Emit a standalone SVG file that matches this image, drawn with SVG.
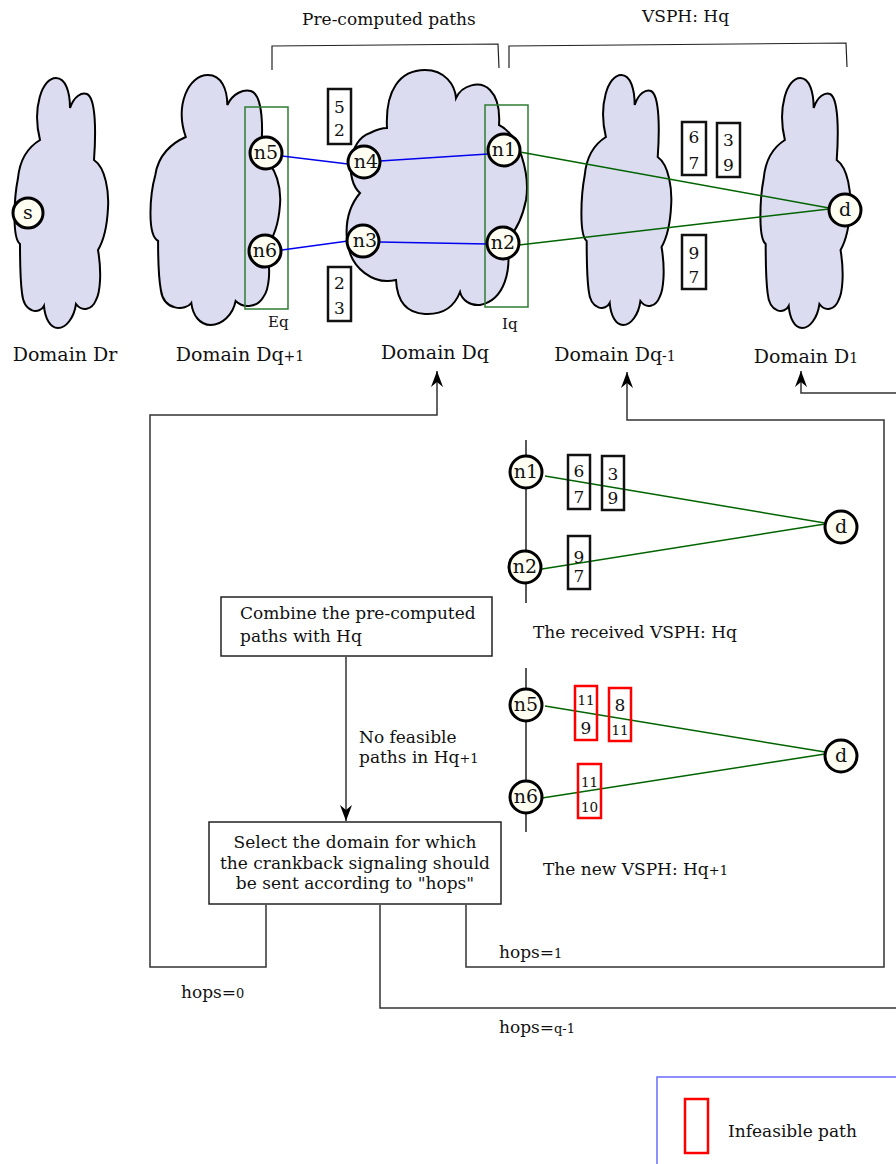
<svg xmlns="http://www.w3.org/2000/svg" xmlns:xlink="http://www.w3.org/1999/xlink" width="896" height="1164" viewBox="0 0 896 1164">
<style>
text{font-family:"DejaVu Serif","Liberation Serif",serif;fill:#111}
.t17{font-size:17px}
.dom{font-size:19px;text-anchor:middle}
.nl{font-size:19px;text-anchor:middle}
.dg{font-size:17px;text-anchor:middle}
.dr{font-size:13.5px;text-anchor:middle}
.cloud{fill:#dcdcf0;stroke:#000;stroke-width:2}
.node{fill:#fdfdf2;stroke:#000;stroke-width:3}
.bx{fill:none;stroke:#111;stroke-width:2.5}
.rbx{fill:none;stroke:#f00;stroke-width:2.5}
.blue{stroke:#0000ee;stroke-width:1.5;fill:none}
.green{stroke:#006400;stroke-width:1.5;fill:none}
.gbox{fill:none;stroke:#2e7d32;stroke-width:1.5}
.conn{fill:none;stroke:#333;stroke-width:1.5}
.brk{fill:none;stroke:#222;stroke-width:1.2}
.fbox{fill:#fff;stroke:#222;stroke-width:1.5}
</style>
<defs>
<path id="tall" d="M 28 62 C 20 30, 30 0, 44 0 C 54 0, 58 15, 58 30 C 62 18, 70 14, 75 16 C 84 20, 84 55, 82 82 C 94 90, 97 115, 96 130 C 95 150, 92 162, 86 172 C 90 195, 88 215, 84 222 C 80 232, 70 234, 64 226 C 62 240, 54 250, 46 250 C 38 250, 33 240, 32 228 C 28 236, 12 236, 10 215 C 8 200, 8 180, 8 166 C 0 160, 2 120, 6 100 C 8 80, 18 68, 28 62 Z" vector-effect="non-scaling-stroke"/>
<marker id="ah" viewBox="0 0 16 12" refX="16" refY="6" markerWidth="16" markerHeight="12" markerUnits="userSpaceOnUse" orient="auto">
<path d="M16 6 L0 0 L5 6 L0 12 Z" fill="#000"/>
</marker>
</defs>

<!-- titles and brackets -->
<g id="titles">
<text class="t17" x="302" y="25">Pre-computed paths</text>
<text class="t17" x="642" y="22">VSPH: Hq</text>
<path class="brk" d="M272 70 L272 46 L498 44 L499 68"/>
<path class="brk" d="M509 68 L509 46 L846 43 L847 67"/>
</g>

<!-- clouds -->
<g id="domain-Dr">
<use xlink:href="#tall" class="cloud" transform="translate(12,78)"/>
<text class="dom" x="65" y="361">Domain Dr</text>
</g>
<g id="domain-Dq1">
<use xlink:href="#tall" class="cloud" transform="translate(147,75) scale(1.385,1)"/>
<text class="dom" x="240" y="361">Domain Dq<tspan font-size="14">+1</tspan></text>
</g>
<g id="domain-Dq">
<path class="cloud" d="M 387 128 C 385 90, 400 70, 425 70 C 445 70, 455 85, 456 98 C 462 85, 480 80, 490 90 C 498 98, 500 110, 499 125 C 520 135, 530 175, 526 200 C 522 220, 515 232, 507 240 C 512 270, 505 300, 480 305 C 470 306, 462 300, 460 292 C 455 305, 445 315, 425 314 C 405 313, 397 300, 396 280 C 375 285, 350 270, 347 240 C 345 220, 350 205, 360 193 C 345 180, 348 140, 370 133 C 376 130, 382 128, 387 128 Z"/>
<text class="dom" x="435" y="359">Domain Dq</text>
</g>
<g id="domain-Dqm1">
<use xlink:href="#tall" class="cloud" transform="translate(579,75) scale(0.96,1)"/>
<text class="dom" x="615" y="361">Domain Dq<tspan font-size="14">-1</tspan></text>
</g>
<g id="domain-D1">
<use xlink:href="#tall" class="cloud" transform="translate(758,78) scale(0.96,1)"/>
<text class="dom" x="806" y="363">Domain D<tspan font-size="14">1</tspan></text>
</g>

<!-- border sets -->
<g id="Eq">
<rect class="gbox" x="245" y="107" width="43" height="202"/>
<text x="268" y="327" font-size="15">Eq</text>
</g>
<g id="Iq">
<rect class="gbox" x="485" y="105" width="43" height="202"/>
<text x="502" y="329" font-size="15">Iq</text>
</g>

<!-- top links -->
<g id="links-top">
<line class="blue" x1="282" y1="156" x2="348" y2="164"/>
<line class="blue" x1="380" y1="161" x2="488" y2="154"/>
<line class="blue" x1="282" y1="250" x2="348" y2="241"/>
<line class="blue" x1="379" y1="242" x2="488" y2="244"/>
<line class="green" x1="520" y1="152" x2="829" y2="208"/>
<line class="green" x1="519" y1="245" x2="829" y2="209"/>
</g>

<!-- top nodes -->
<g id="node-s"><circle class="node" cx="28" cy="213" r="15"/><text class="nl" x="28" y="219">s</text></g>
<g id="node-n5"><circle class="node" cx="266" cy="153" r="16"/><text class="nl" x="266" y="159">n5</text></g>
<g id="node-n6"><circle class="node" cx="265" cy="251" r="16"/><text class="nl" x="265" y="257">n6</text></g>
<g id="node-n4"><circle class="node" cx="364" cy="162" r="16"/><text class="nl" x="366" y="168">n4</text></g>
<g id="node-n3"><circle class="node" cx="363" cy="241" r="16"/><text class="nl" x="365" y="247">n3</text></g>
<g id="node-n1"><circle class="node" cx="504" cy="150" r="16"/><text class="nl" x="504" y="156">n1</text></g>
<g id="node-n2"><circle class="node" cx="503" cy="243" r="16"/><text class="nl" x="503" y="249">n2</text></g>
<g id="node-d"><circle class="node" cx="845" cy="210" r="16"/><text class="nl" x="845" y="216">d</text></g>

<!-- top path boxes -->
<g id="box-52"><rect class="bx" x="328" y="89" width="23" height="55"/><text class="dg" x="339.5" y="113">5</text><text class="dg" x="339.5" y="136">2</text></g>
<g id="box-23"><rect class="bx" x="328" y="267" width="23" height="54"/><text class="dg" x="339.5" y="289">2</text><text class="dg" x="339.5" y="314">3</text></g>
<g id="box-67"><rect class="bx" x="682" y="122" width="24" height="53"/><text class="dg" x="694" y="143">6</text><text class="dg" x="694" y="169">7</text></g>
<g id="box-39"><rect class="bx" x="717" y="123" width="23" height="54"/><text class="dg" x="728.5" y="146">3</text><text class="dg" x="728.5" y="171">9</text></g>
<g id="box-97"><rect class="bx" x="682" y="235" width="24" height="54"/><text class="dg" x="694" y="259">9</text><text class="dg" x="694" y="283">7</text></g>

<!-- received VSPH -->
<g id="received-vsph">
<line x1="526" y1="440" x2="526" y2="603" stroke="#222" stroke-width="1.5"/>
<line class="green" x1="545" y1="476" x2="825" y2="523"/>
<line class="green" x1="542" y1="569" x2="825" y2="524"/>
<circle class="node" cx="526" cy="472" r="16"/><text class="nl" x="526" y="478">n1</text>
<circle class="node" cx="525" cy="567" r="16"/><text class="nl" x="525" y="573">n2</text>
<circle class="node" cx="841" cy="527" r="16"/><text class="nl" x="841" y="533">d</text>
<rect class="bx" x="568" y="455" width="22" height="54"/><text class="dg" x="579" y="477">6</text><text class="dg" x="579" y="503">7</text>
<rect class="bx" x="602" y="456" width="22" height="54"/><text class="dg" x="613" y="480">3</text><text class="dg" x="613" y="504">9</text>
<rect class="bx" x="568" y="536" width="22" height="53"/><text class="dg" x="579" y="563">9</text><text class="dg" x="579" y="582">7</text>
<text class="t17" x="533" y="638">The received VSPH: Hq</text>
</g>

<!-- new VSPH -->
<g id="new-vsph">
<line x1="526" y1="668" x2="526" y2="832" stroke="#222" stroke-width="1.5"/>
<line class="green" x1="545" y1="706" x2="825" y2="752"/>
<line class="green" x1="542" y1="798" x2="825" y2="754"/>
<circle class="node" cx="526" cy="705" r="16"/><text class="nl" x="526" y="711">n5</text>
<circle class="node" cx="526" cy="797" r="16"/><text class="nl" x="526" y="803">n6</text>
<circle class="node" cx="841" cy="756" r="16"/><text class="nl" x="841" y="762">d</text>
<rect class="rbx" x="575" y="686" width="22" height="54"/><text class="dr" x="586" y="705">11</text><text class="dg" x="586" y="734">9</text>
<rect class="rbx" x="609" y="688" width="22" height="53"/><text class="dg" x="620" y="711">8</text><text class="dr" x="620" y="735">11</text>
<rect class="rbx" x="578" y="764" width="23" height="54"/><text class="dr" x="589.5" y="787">11</text><text class="dr" x="589.5" y="812">10</text>
<text class="t17" x="543" y="875">The new VSPH: Hq<tspan font-size="13">+1</tspan></text>
</g>

<!-- flow boxes -->
<g id="box-combine">
<rect class="fbox" x="221" y="597" width="271" height="59"/>
<text class="t17" x="240" y="619">Combine the pre-computed</text>
<text class="t17" x="240" y="642">paths with Hq</text>
</g>
<g id="box-select">
<rect class="fbox" x="209" y="822" width="292" height="82"/>
<text class="t17" x="355" y="848" text-anchor="middle">Select the domain for which</text>
<text class="t17" x="355" y="869" text-anchor="middle">the crankback signaling should</text>
<text class="t17" x="355" y="889" text-anchor="middle">be sent according to "hops"</text>
</g>

<!-- connectors -->
<g id="connectors">
<path class="conn" d="M346 657 L346 821" marker-end="url(#ah)"/>
<path class="conn" d="M266 905 L266 967 L150 967 L150 415 L437 415 L437 371" marker-end="url(#ah)"/>
<path class="conn" d="M466 905 L466 967 L884 967 L884 420 L627 420 L627 372" marker-end="url(#ah)"/>
<path class="conn" d="M380 905 L380 1008 L897 1008"/>
<path class="conn" d="M897 393 L801 393 L801 371" marker-end="url(#ah)"/>
<text class="t17" x="359" y="743">No feasible</text>
<text class="t17" x="359" y="763">paths in Hq<tspan font-size="13">+1</tspan></text>
<text class="t17" x="499" y="958">hops=<tspan font-size="13">1</tspan></text>
<text class="t17" x="181" y="998">hops=<tspan font-size="13">0</tspan></text>
<text class="t17" x="499" y="1033">hops=<tspan font-size="13">q-1</tspan></text>
</g>

<!-- legend -->
<g id="legend">
<rect x="657" y="1077" width="260" height="100" fill="none" stroke="#6b6bff" stroke-width="1.5"/>
<rect class="rbx" x="685" y="1099" width="23" height="54"/>
<text class="t17" x="728" y="1137">Infeasible path</text>
</g>
</svg>
